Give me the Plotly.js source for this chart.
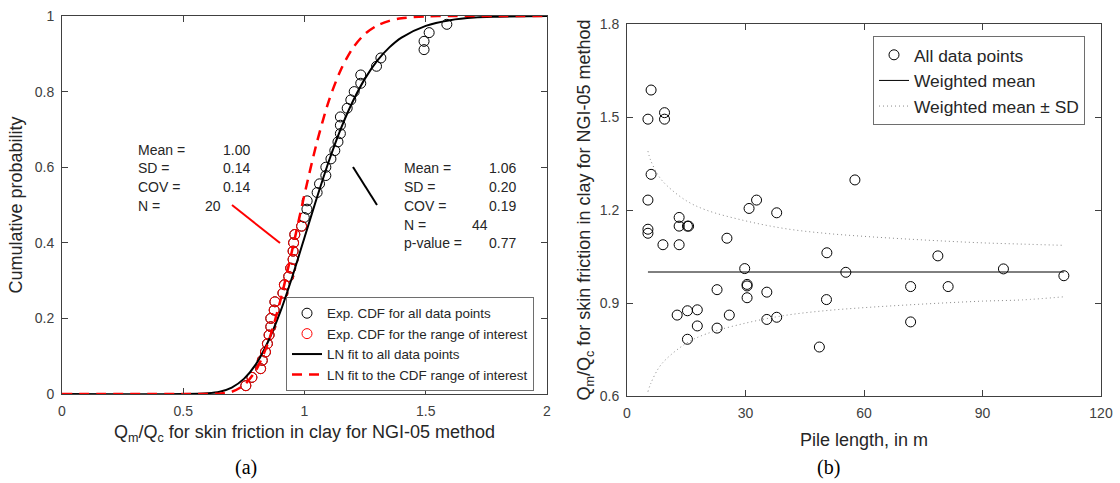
<!DOCTYPE html>
<html>
<head>
<meta charset="utf-8">
<script src="https://cdn.plot.ly/plotly-3.0.1.min.js"></script>
<style>
  html, body { margin: 0; padding: 0; background: #ffffff; }
  #chart { width: 1120px; height: 483px; }
</style>
</head>
<body>
<div id="chart"></div>
<script>
// ---------- Panel (a): empirical CDF and lognormal fits ----------
const ecdfAllX = [0.758,0.783,0.819,0.826,0.839,0.847,0.854,0.861,0.861,0.875,0.878,0.911,0.917,0.935,0.943,0.953,0.953,0.955,0.960,0.988,
                  0.999,1.010,1.011,1.052,1.062,1.088,1.088,1.109,1.125,1.138,1.148,1.148,1.148,1.176,1.191,1.205,1.232,1.232,1.297,1.315,
                  1.493,1.493,1.514,1.587];
const ecdfAllP = [0.022,0.044,0.067,0.089,0.111,0.133,0.156,0.178,0.200,0.222,0.244,0.267,0.289,0.311,0.333,0.356,0.378,0.400,0.422,0.444,
                  0.467,0.489,0.511,0.533,0.556,0.578,0.600,0.622,0.644,0.667,0.689,0.711,0.733,0.756,0.778,0.800,0.822,0.844,0.867,0.889,
                  0.911,0.933,0.956,0.978];
const ecdfRangeX = [0.758,0.783,0.819,0.826,0.839,0.847,0.854,0.861,0.861,0.875,0.878,0.911,0.917,0.935,0.943,0.953,0.953,0.955,0.960,0.988];
const ecdfRangeP = [0.022,0.044,0.067,0.089,0.111,0.133,0.156,0.178,0.200,0.222,0.244,0.267,0.289,0.311,0.333,0.356,0.378,0.400,0.422,0.444];

const fitX      = [0, 0.5, 0.6, 0.65, 0.7, 0.75, 0.8, 0.85, 0.9, 0.95, 1.0, 1.05, 1.1, 1.15, 1.2, 1.25, 1.3, 1.35, 1.4, 1.5, 1.6, 1.7, 1.8, 2.0];
const fitAllP   = [0, 0, 0.002, 0.006, 0.017, 0.040, 0.079, 0.139, 0.217, 0.311, 0.414, 0.517, 0.615, 0.702, 0.775, 0.835, 0.882, 0.917, 0.943, 0.974, 0.989, 0.996, 0.998, 1.0];
const fitRangeP = [0, 0, 0.000, 0.001, 0.006, 0.023, 0.063, 0.136, 0.246, 0.383, 0.528, 0.663, 0.775, 0.858, 0.916, 0.953, 0.975, 0.987, 0.994, 0.999, 1.0, 1.0, 1.0, 1.0];

const statLabelsRange = ["Mean =", "SD =", "COV =", "N ="];
const statValuesRange = ["1.00", "0.14", "0.14", "20"];
const statLabelsAll   = ["Mean =", "SD =", "COV =", "N =", "p-value ="];
const statValuesAll   = ["1.06", "0.20", "0.19", "44", "0.77"];

// ---------- Panel (b): ratio vs pile length ----------
const pileLength = [6.1,5.3,9.5,9.5,6.1,5.3,57.7,32.8,30.9,37.9,13.2,5.3,5.3,13.2,15.3,15.6,9.1,13.2,25.3,50.6,29.8,55.4,
                    22.8,30.4,30.4,35.4,30.4,50.5,12.7,15.3,17.8,25.9,35.4,37.9,17.8,22.8,15.3,48.7,78.7,95.3,110.6,71.8,81.3,71.8];
const ratioQmQc  = [1.587,1.493,1.514,1.493,1.315,1.232,1.297,1.232,1.205,1.191,1.176,1.138,1.125,1.148,1.148,1.148,1.088,1.088,1.109,1.062,1.011,0.999,
                    0.943,0.960,0.955,0.935,0.917,0.911,0.861,0.875,0.878,0.861,0.847,0.854,0.826,0.819,0.783,0.758,1.052,1.010,0.988,0.953,0.953,0.839];
const meanX = [5.3, 110.6];
const meanY = [1.0, 1.0];
const sdX     = [5.3, 6, 8, 10, 15, 20, 30, 40, 50, 60, 70, 80, 90, 100, 110.6];
const sdUpper = [1.39, 1.36, 1.31, 1.28, 1.23, 1.20, 1.165, 1.14, 1.125, 1.115, 1.107, 1.10, 1.094, 1.09, 1.086];
const sdLower = [0.614, 0.64, 0.69, 0.72, 0.77, 0.80, 0.835, 0.86, 0.875, 0.885, 0.893, 0.90, 0.906, 0.91, 0.92];

const FONT = "Liberation Sans, Arial, Helvetica, sans-serif";
const AXC = "#404040";
const TXT = "#262626";

const traces = [
  { x: ecdfAllX, y: ecdfAllP, type: "scatter", mode: "markers", name: "Exp. CDF for all data points",
    marker: { symbol: "circle-open", size: 10, color: "#000000", line: { width: 1 } }, xaxis: "x", yaxis: "y", legend: "legend" },
  { x: ecdfRangeX, y: ecdfRangeP, type: "scatter", mode: "markers", name: "Exp. CDF for the range of interest",
    marker: { symbol: "circle-open", size: 10, color: "#ff0000", line: { width: 1 } }, xaxis: "x", yaxis: "y", legend: "legend" },
  { x: fitX, y: fitAllP, type: "scatter", mode: "lines", name: "LN fit to all data points",
    line: { color: "#000000", width: 2, shape: "spline", smoothing: 0.8 }, xaxis: "x", yaxis: "y", legend: "legend" },
  { x: fitX, y: fitRangeP, type: "scatter", mode: "lines", name: "LN fit to the CDF range of interest",
    line: { color: "#ff0000", width: 2.5, dash: "10px,7px", shape: "spline", smoothing: 0.8 }, xaxis: "x", yaxis: "y", legend: "legend" },

  { x: pileLength, y: ratioQmQc, type: "scatter", mode: "markers", name: "All data points",
    marker: { symbol: "circle-open", size: 10, color: "#000000", line: { width: 1 } }, xaxis: "x2", yaxis: "y2", legend: "legend2" },
  { x: meanX, y: meanY, type: "scatter", mode: "lines", name: "Weighted mean",
    line: { color: "#000000", width: 1 }, xaxis: "x2", yaxis: "y2", legend: "legend2" },
  { x: sdX, y: sdUpper, type: "scatter", mode: "lines", name: "Weighted mean \u00B1 SD",
    line: { color: "#8a8a8a", width: 1, dash: "1px,3px", shape: "spline" }, xaxis: "x2", yaxis: "y2", legend: "legend2" },
  { x: sdX, y: sdLower, type: "scatter", mode: "lines", name: "Weighted mean \u2212 SD", showlegend: false,
    line: { color: "#8a8a8a", width: 1, dash: "1px,3px", shape: "spline" }, xaxis: "x2", yaxis: "y2", legend: "legend2" }
];

const annotations = [];
const rowsRange = [0.6455, 0.598, 0.548, 0.497];
statLabelsRange.forEach((t, i) => {
  annotations.push({ xref: "x", yref: "y", x: 0.305, y: rowsRange[i], text: t, showarrow: false, xanchor: "left", yanchor: "middle", font: { family: FONT, size: 14, color: TXT } });
  annotations.push({ xref: "x", yref: "y", x: (i === 3 ? 0.664 : 0.7835), y: rowsRange[i], text: statValuesRange[i], showarrow: false, xanchor: "right", yanchor: "middle", font: { family: FONT, size: 14, color: TXT } });
});
const rowsAll = [0.598, 0.548, 0.497, 0.447, 0.399];
statLabelsAll.forEach((t, i) => {
  annotations.push({ xref: "x", yref: "y", x: 1.402, y: rowsAll[i], text: t, showarrow: false, xanchor: "left", yanchor: "middle", font: { family: FONT, size: 14, color: TXT } });
  annotations.push({ xref: "x", yref: "y", x: (i === 3 ? 1.765 : 1.880), y: rowsAll[i], text: statValuesAll[i], showarrow: false, xanchor: "right", yanchor: "middle", font: { family: FONT, size: 14, color: TXT } });
});
annotations.push({ xref: "paper", yref: "paper", x: 246 / 1120, y: (483 - 467) / 483, text: "(a)", showarrow: false, xanchor: "center", yanchor: "middle", font: { family: "Liberation Serif, Times New Roman, serif", size: 20, color: "#000" } });
annotations.push({ xref: "paper", yref: "paper", x: 828 / 1120, y: (483 - 467) / 483, text: "(b)", showarrow: false, xanchor: "center", yanchor: "middle", font: { family: "Liberation Serif, Times New Roman, serif", size: 20, color: "#000" } });

const shapes = [
  { type: "line", xref: "x", yref: "y", x0: 1.200, y0: 0.6005, x1: 1.299, y1: 0.500, line: { color: "#000000", width: 2 } },
  { type: "line", xref: "x", yref: "y", x0: 0.701, y0: 0.500, x1: 0.899, y1: 0.3995, line: { color: "#ff0000", width: 2 } }
];

const axisCommon = {
  ticks: "inside", ticklen: 6, tickwidth: 1, tickcolor: AXC, mirror: "ticks", showline: true, linecolor: AXC, linewidth: 1,
  showgrid: false, zeroline: false, tickfont: { family: FONT, size: 14, color: AXC }, ticklabelstandoff: 4
};

const layout = {
  width: 1120, height: 483,
  margin: { l: 0, r: 0, t: 0, b: 0 },
  paper_bgcolor: "#ffffff", plot_bgcolor: "#ffffff",
  font: { family: FONT, color: TXT },
  xaxis: Object.assign({}, axisCommon, { domain: [62 / 1120, 547 / 1120], range: [0, 2], dtick: 0.5, tick0: 0, anchor: "y",
    title: { text: "Q<sub>m</sub>/Q<sub>c</sub> for skin friction in clay for NGI-05 method", font: { family: FONT, size: 18, color: TXT }, standoff: 7 } }),
  yaxis: Object.assign({}, axisCommon, { domain: [(483 - 394) / 483, (483 - 16) / 483], range: [0, 1], dtick: 0.2, tick0: 0, anchor: "x",
    title: { text: "Cumulative probability", font: { family: FONT, size: 18, color: TXT }, standoff: 7 } }),
  xaxis2: Object.assign({}, axisCommon, { domain: [627 / 1120, 1101 / 1120], range: [0, 120], dtick: 30, tick0: 0, anchor: "y2",
    title: { text: "Pile length, in m", font: { family: FONT, size: 18, color: TXT }, standoff: 13 } }),
  yaxis2: Object.assign({}, axisCommon, { domain: [(483 - 396) / 483, (483 - 24) / 483], range: [0.6, 1.8], dtick: 0.3, tick0: 0.6, anchor: "x2",
    title: { text: "Q<sub>m</sub>/Q<sub>c</sub> for skin friction in clay for NGI-05 method", font: { family: FONT, size: 18, color: TXT }, standoff: 4 } }),
  legend: { x: 286 / 1120, y: (483 - 297) / 483, xanchor: "left", yanchor: "top", bgcolor: "#ffffff", bordercolor: "#6e6e6e", borderwidth: 1,
    font: { family: FONT, size: 13.4, color: TXT }, tracegroupgap: 0 },
  legend2: { x: 873 / 1120, y: (483 - 36) / 483, xanchor: "left", yanchor: "top", bgcolor: "#ffffff", bordercolor: "#6e6e6e", borderwidth: 1,
    font: { family: FONT, size: 17.4, color: TXT }, tracegroupgap: 0 },
  annotations: annotations,
  shapes: shapes,
  showlegend: true
};

Plotly.newPlot("chart", traces, layout, { displayModeBar: false, staticPlot: true });
</script>
</body>
</html>
